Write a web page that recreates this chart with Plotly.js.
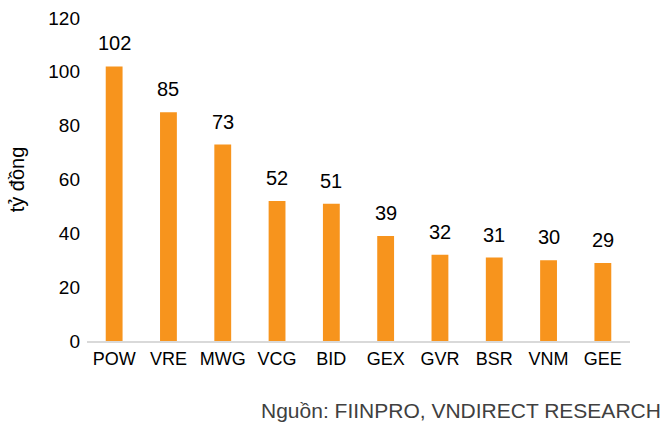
<!DOCTYPE html>
<html>
<head>
<meta charset="utf-8">
<script src="https://cdn.plot.ly/plotly-3.0.1.min.js"></script>
<style>html,body{margin:0;padding:0;background:#fff;}#chart{width:663px;height:426px;}</style>
</head>
<body>
<div id="chart"></div>
<script>
const categories = ["POW", "VRE", "MWG", "VCG", "BID", "GEX", "GVR", "BSR", "VNM", "GEE"];
const values = [102, 85, 73, 52, 51, 39, 32, 31, 30, 29];
const yTickValues = [0, 20, 40, 60, 80, 100, 120];
const yAxisTitle = "tỷ đồng";
const sourceText = "Nguồn: FIINPRO, VNDIRECT RESEARCH";

const FONT = "Liberation Sans, Arial, sans-serif";

const trace = {
  type: "bar",
  x: categories,
  y: values,
  marker: {color: "#F7941D"},
  hoverinfo: "none"
};

const labelAnnotations = categories.map((c, i) => ({
  xref: "x", yref: "y",
  x: c, y: values[i],
  text: String(values[i]),
  showarrow: false,
  xanchor: "center", yanchor: "bottom",
  yshift: 10,
  font: {family: FONT, size: 20, color: "#000"}
}));

const layout = {
  width: 663,
  height: 426,
  margin: {l: 87, r: 33, t: 18, b: 85},
  paper_bgcolor: "#fff",
  plot_bgcolor: "#fff",
  bargap: 0.69,
  showlegend: false,
  font: {family: FONT, size: 20, color: "#000"},
  xaxis: {
    type: "category",
    showline: true,
    linecolor: "#D9D9D9",
    linewidth: 2,
    ticks: "",
    showgrid: false,
    tickfont: {family: FONT, size: 18, color: "#000"}
  },
  yaxis: {
    range: [0, 120],
    tickvals: yTickValues,
    ticktext: yTickValues.map(String),
    showgrid: false,
    zeroline: false,
    showline: false,
    ticks: "",
    ticklabelstandoff: 6,
    tickfont: {family: FONT, size: 19, color: "#000"},
    title: {text: yAxisTitle, font: {family: FONT, size: 20, color: "#000"}, standoff: 18}
  },
  annotations: labelAnnotations.concat([{
    xref: "paper", yref: "paper",
    x: 1 + 33/543, y: (341 - 410) / 323,
    xanchor: "right", yanchor: "middle",
    text: sourceText,
    showarrow: false,
    font: {family: FONT, size: 21, color: "#404040"}
  }])
};

Plotly.newPlot("chart", [trace], layout, {displayModeBar: false, staticPlot: true});
</script>
</body>
</html>
